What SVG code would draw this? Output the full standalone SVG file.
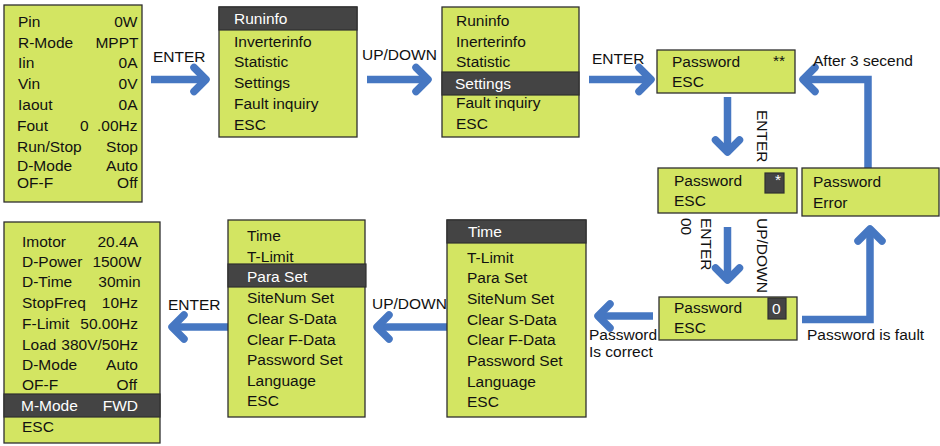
<svg xmlns="http://www.w3.org/2000/svg" width="940" height="446" viewBox="0 0 940 446">
<style>
.box{fill:#d3e562;stroke:#2f2f2f;stroke-width:1.3}
.dark{fill:#444444;stroke:#2f2f2f;stroke-width:1.2}
text{font-family:"Liberation Sans",Arial,sans-serif;font-size:15.5px;fill:#111}
.w{fill:#ffffff}
.e{text-anchor:end}
.shaft{fill:none;stroke:#4677c2;stroke-width:7.5;stroke-linejoin:miter}
</style>
<defs>
<marker id="chev" markerUnits="userSpaceOnUse" markerWidth="40" markerHeight="40" viewBox="-20 -20 40 40" refX="0" refY="0" orient="auto" overflow="visible">
<path d="M-12,-12 L0,0 L-12,12" fill="none" stroke="#4677c2" stroke-width="7.5" stroke-linecap="round" stroke-linejoin="round"/>
</marker>
</defs>
<rect width="940" height="446" fill="#ffffff"/>

<g id="connectors">
<path class="shaft" d="M151,79.5 H206" marker-end="url(#chev)"/>
<path class="shaft" d="M367,79.5 H428" marker-end="url(#chev)"/>
<path class="shaft" d="M589,79.5 H651" marker-end="url(#chev)"/>
<path class="shaft" d="M727.5,97 V152" marker-end="url(#chev)"/>
<path class="shaft" d="M868,168 V79.5 H803" marker-end="url(#chev)"/>
<path class="shaft" d="M727.5,227 V280" marker-end="url(#chev)"/>
<path class="shaft" d="M802,319.5 H870 V229" marker-end="url(#chev)"/>
<path class="shaft" d="M653,316 H598" marker-end="url(#chev)"/>
<path class="shaft" d="M447,327 H377" marker-end="url(#chev)"/>
<path class="shaft" d="M228,327 H172" marker-end="url(#chev)"/>
<text x="153" y="62">ENTER</text>
<text x="362" y="60">UP/DOWN</text>
<text x="592" y="64">ENTER</text>
<text x="813" y="66">After 3 secend</text>
<text transform="translate(757,110) rotate(90)">ENTER</text>
<text transform="translate(701,218) rotate(90)">ENTER</text>
<text transform="translate(681,218) rotate(90)">00</text>
<text transform="translate(757,218) rotate(90)">UP/DOWN</text>
<text x="589" y="340">Password</text>
<text x="589" y="357">Is correct</text>
<text x="807" y="340">Password is fault</text>
<text x="168" y="310">ENTER</text>
<text x="372" y="309">UP/DOWN</text>
</g>

<g id="status">
<rect class="box" x="4" y="5" width="138" height="197"/>
<text x="18" y="27">Pin</text><text class="e" x="137.5" y="27">0W</text>
<text x="18" y="48">R-Mode</text><text class="e" x="138.5" y="48">MPPT</text>
<text x="18" y="68">Iin</text><text class="e" x="137.5" y="68">0A</text>
<text x="18" y="89">Vin</text><text class="e" x="137.5" y="89">0V</text>
<text x="18" y="109.5">Iaout</text><text class="e" x="137.5" y="109.5">0A</text>
<text x="17" y="130.5">Fout</text><text x="80" y="130.5">0</text><text class="e" x="137.5" y="130.5">.00Hz</text>
<text x="17" y="151.5">Run/Stop</text><text class="e" x="138" y="151.5">Stop</text>
<text x="17" y="171">D-Mode</text><text class="e" x="138" y="171">Auto</text>
<text x="17" y="188">OF-F</text><text class="e" x="137.5" y="188">Off</text>
</g>

<g id="menu1">
<rect class="box" x="219" y="7" width="138" height="130"/>
<rect class="dark" x="219" y="7" width="138" height="23"/>
<text class="w" x="234" y="24">Runinfo</text>
<text x="234" y="47">Inverterinfo</text>
<text x="234" y="67">Statistic</text>
<text x="234" y="88">Settings</text>
<text x="234" y="108.5">Fault inquiry</text>
<text x="234" y="129.5">ESC</text>
</g>

<g id="menu2">
<rect class="box" x="442" y="7" width="137" height="130"/>
<rect class="dark" x="442" y="72" width="137" height="23"/>
<text x="456" y="26">Runinfo</text>
<text x="456" y="47">Inerterinfo</text>
<text x="456" y="67">Statistic</text>
<text class="w" x="455" y="89">Settings</text>
<text x="456" y="108">Fault inquiry</text>
<text x="456" y="129">ESC</text>
</g>

<g id="pw1">
<rect class="box" x="657" y="50" width="138" height="43"/>
<text x="672" y="66.5">Password</text>
<text x="773" y="66">**</text>
<text x="672" y="87">ESC</text>
</g>

<g id="pw2">
<rect class="box" x="658" y="168" width="139" height="45"/>
<text x="674" y="186">Password</text>
<rect class="dark" x="765" y="173" width="19" height="20"/>
<text class="w" x="775" y="185">*</text>
<text x="674" y="206">ESC</text>
</g>

<g id="pwerr">
<rect class="box" x="802" y="168" width="137" height="48"/>
<text x="813" y="187">Password</text>
<text x="813" y="208">Error</text>
</g>

<g id="pw3">
<rect class="box" x="659" y="297" width="138" height="43"/>
<text x="674" y="313">Password</text>
<rect class="dark" x="768" y="298" width="18" height="21"/>
<text class="w" x="772" y="314">0</text>
<text x="674" y="333">ESC</text>
</g>

<g id="settings">
<rect class="box" x="447" y="220" width="139" height="197"/>
<rect class="dark" x="447" y="220" width="139" height="23"/>
<text class="w" x="468" y="237">Time</text>
<text x="467" y="262.5">T-Limit</text>
<text x="467" y="283">Para Set</text>
<text x="467" y="303.5">SiteNum Set</text>
<text x="467" y="324.5">Clear S-Data</text>
<text x="467" y="345">Clear F-Data</text>
<text x="467" y="365.5">Password Set</text>
<text x="467" y="386.5">Language</text>
<text x="467" y="407">ESC</text>
</g>

<g id="settings2">
<rect class="box" x="228" y="220" width="137" height="197"/>
<rect class="dark" x="228" y="264" width="138" height="23"/>
<text x="247" y="241">Time</text>
<text x="247" y="261.5">T-Limit</text>
<text class="w" x="247" y="281.5">Para Set</text>
<text x="247" y="303">SiteNum Set</text>
<text x="247" y="324">Clear S-Data</text>
<text x="247" y="345">Clear F-Data</text>
<text x="247" y="365">Password Set</text>
<text x="247" y="386">Language</text>
<text x="247" y="406">ESC</text>
</g>

<g id="params">
<rect class="box" x="4" y="222" width="156" height="221"/>
<rect class="dark" x="4" y="394" width="156" height="23"/>
<text x="22" y="247">Imotor</text><text class="e" x="138" y="247">20.4A</text>
<text x="22" y="267">D-Power</text><text class="e" x="141.5" y="267">1500W</text>
<text x="22" y="287">D-Time</text><text class="e" x="140.5" y="287">30min</text>
<text x="22" y="308">StopFreq</text><text class="e" x="138" y="308">10Hz</text>
<text x="22" y="329">F-Limit</text><text class="e" x="138" y="329">50.00Hz</text>
<text x="22" y="349.5">Load</text><text class="e" x="138" y="349.5">380V/50Hz</text>
<text x="22" y="369.5">D-Mode</text><text class="e" x="138" y="369.5">Auto</text>
<text x="22" y="389.5">OF-F</text><text class="e" x="137" y="389.5">Off</text>
<text class="w" x="21" y="411">M-Mode</text><text class="e w" x="138" y="411">FWD</text>
<text x="22" y="431.5">ESC</text>
</g>
</svg>
